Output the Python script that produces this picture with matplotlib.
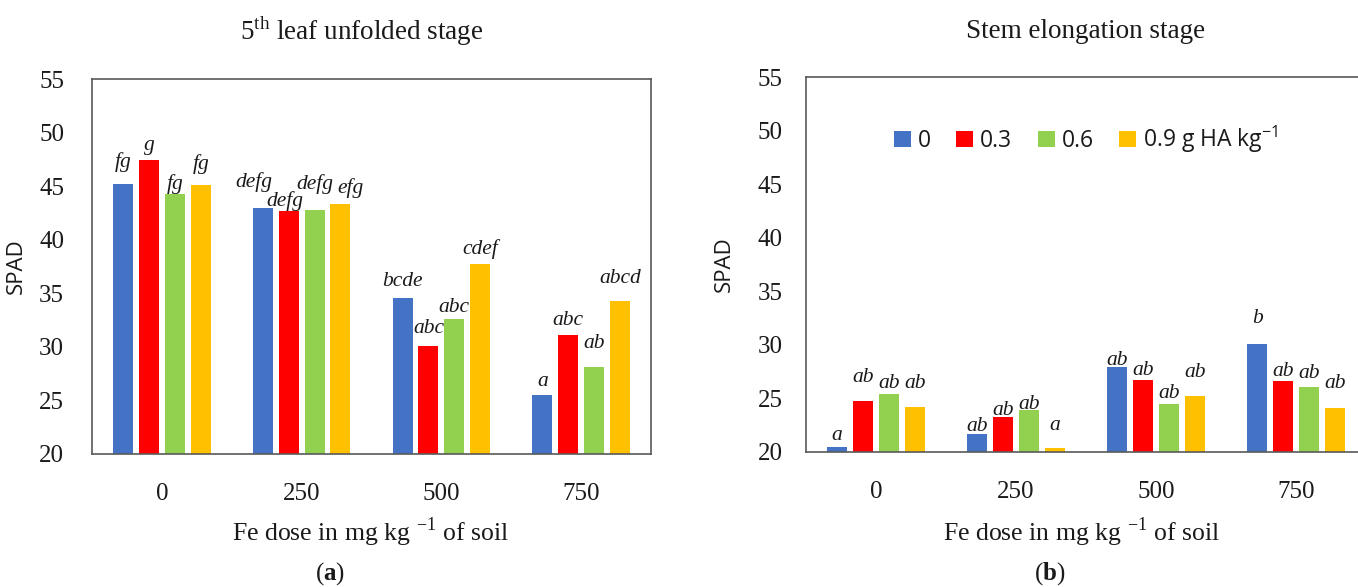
import matplotlib
matplotlib.use('Agg')
import matplotlib.pyplot as plt
import numpy as np

# data
doses = ['0', '250', '500', '750']
series = ['0', '0.3', '0.6', '0.9 g HA kg$^{\\mathsf{-1}}$']
colors = ['#4472C4', '#FF0000', '#92D050', '#FFC000']

leaf_0 = [45.2, 43.0, 34.6, 25.5]
leaf_03 = [47.4, 42.7, 30.1, 31.1]
leaf_06 = [44.3, 42.8, 32.6, 28.1]
leaf_09 = [45.1, 43.3, 37.7, 34.3]
leaf_letters = [['fg', 'g', 'fg', 'fg'],
                ['defg', 'defg', 'defg', 'efg'],
                ['bcde', 'abc', 'abc', 'cdef'],
                ['a', 'abc', 'ab', 'abcd']]

stem_0 = [20.5, 21.7, 27.9, 30.1]
stem_03 = [24.8, 23.3, 26.7, 26.6]
stem_06 = [25.4, 23.9, 24.5, 26.1]
stem_09 = [24.2, 20.4, 25.2, 24.1]
stem_letters = [['a', 'ab', 'ab', 'ab'],
                ['ab', 'ab', 'ab', 'a'],
                ['ab', 'ab', 'ab', 'ab'],
                ['b', 'ab', 'ab', 'ab']]

# label placement (pixels above bar top, pixel shift sideways)
leaf_lift = [[24, 17, 12, 23], [28, 12, 28, 18], [18, 19, 14, 17], [16, 17, 26, 24]]
leaf_shift = [[0, 0, 0, 0], [-9, -4, 0, 10], [0, 0, 0, 0], [0, 0, 0, 0]]
stem_lift = [[13, 25, 13, 25], [9, 8, 8, 24], [9, 12, 12, 26], [27, 12, 15, 27]]
stem_shift = [[0] * 4] * 4

plt.rcParams['mathtext.fontset'] = 'custom'
plt.rcParams['mathtext.rm'] = 'Liberation Serif'
plt.rcParams['mathtext.bf'] = 'Liberation Serif:bold'
plt.rcParams['mathtext.sf'] = 'Open Sans'

SERIF = 'Liberation Serif'
SANS = 'Open Sans'
INK = '#1a1a1a'
W, H = 1358, 587

fig = plt.figure(figsize=(W / 100, H / 100), dpi=100)


def panel(rect, values, letters, lift, shift, ylab_x, tick_pad, legend=False):
    ax = fig.add_axes([rect[0] / W, 1 - rect[3] / H, (rect[2] - rect[0]) / W, (rect[3] - rect[1]) / H])
    x = np.arange(len(doses))
    step, width = 0.185, 0.143
    for j, vals in enumerate(values):
        ax.bar(x + (j - 1.5) * step, np.array(vals) - 20, width, bottom=20,
               color=colors[j], label=series[j])
        for i, v in enumerate(vals):
            ax.annotate(letters[i][j], (x[i] + (j - 1.5) * step, v),
                        xytext=(shift[i][j], lift[i][j] - 2), textcoords='offset pixels',
                        ha='center', va='center', fontsize=15.5,
                        family=SERIF, style='italic', color=INK)
    ax.set_xlim(-0.5, 3.5)
    ax.set_ylim(20, 55)
    ax.set_yticks(range(20, 56, 5))
    ax.set_xticks(x)
    ax.set_xticklabels(doses)
    ax.tick_params(length=0, labelsize=18, pad=tick_pad, colors=INK)
    ax.tick_params(axis='x', pad=21)
    for lab in ax.get_xticklabels() + ax.get_yticklabels():
        lab.set_family(SERIF)
    for s in ax.spines.values():
        s.set_color('#595959')
        s.set_linewidth(1.2)
    ax.set_ylabel('SPAD', family=SANS, fontsize=16, color=INK)
    ax.yaxis.set_label_coords(ylab_x, 0.5)
    if legend:
        ax.legend(loc='upper center', bbox_to_anchor=(0.5, 0.93), ncol=4, frameon=False,
                  prop={'family': SANS, 'size': 16.5}, handlelength=0.75, handleheight=0.75,
                  handletextpad=0.3, columnspacing=1.1, labelcolor=INK)
    return ax


ax1 = panel((92, 79, 651, 454), [leaf_0, leaf_03, leaf_06, leaf_09], leaf_letters,
            leaf_lift, leaf_shift, -0.116, 20)
ax2 = panel((806, 77, 1366, 452), [stem_0, stem_03, stem_06, stem_09], stem_letters,
            stem_lift, stem_shift, -0.127, 17, legend=True)

fig.text(362 / W, 1 - 31 / H, '5$^{\\mathrm{th}}$ leaf unfolded stage', ha='center', va='center',
         family=SERIF, fontsize=19.5, color=INK)
fig.text(1086 / W, 1 - 31 / H, 'Stem elongation stage', ha='center', va='center',
         family=SERIF, fontsize=19.5, color=INK)
for xc in (371, 1082):
    fig.text(xc / W, 1 - 532 / H, 'Fe dose in mg kg $^{-1}$ of soil', ha='center', va='center',
             family=SERIF, fontsize=18.5, color=INK)
fig.text(330 / W, 1 - 574 / H, '($\\mathbf{a}$)', ha='center', va='center', family=SERIF,
         fontsize=18, color=INK)
fig.text(1050 / W, 1 - 574 / H, '($\\mathbf{b}$)', ha='center', va='center', family=SERIF,
         fontsize=18, color=INK)

fig.savefig('out.png', dpi=100)
